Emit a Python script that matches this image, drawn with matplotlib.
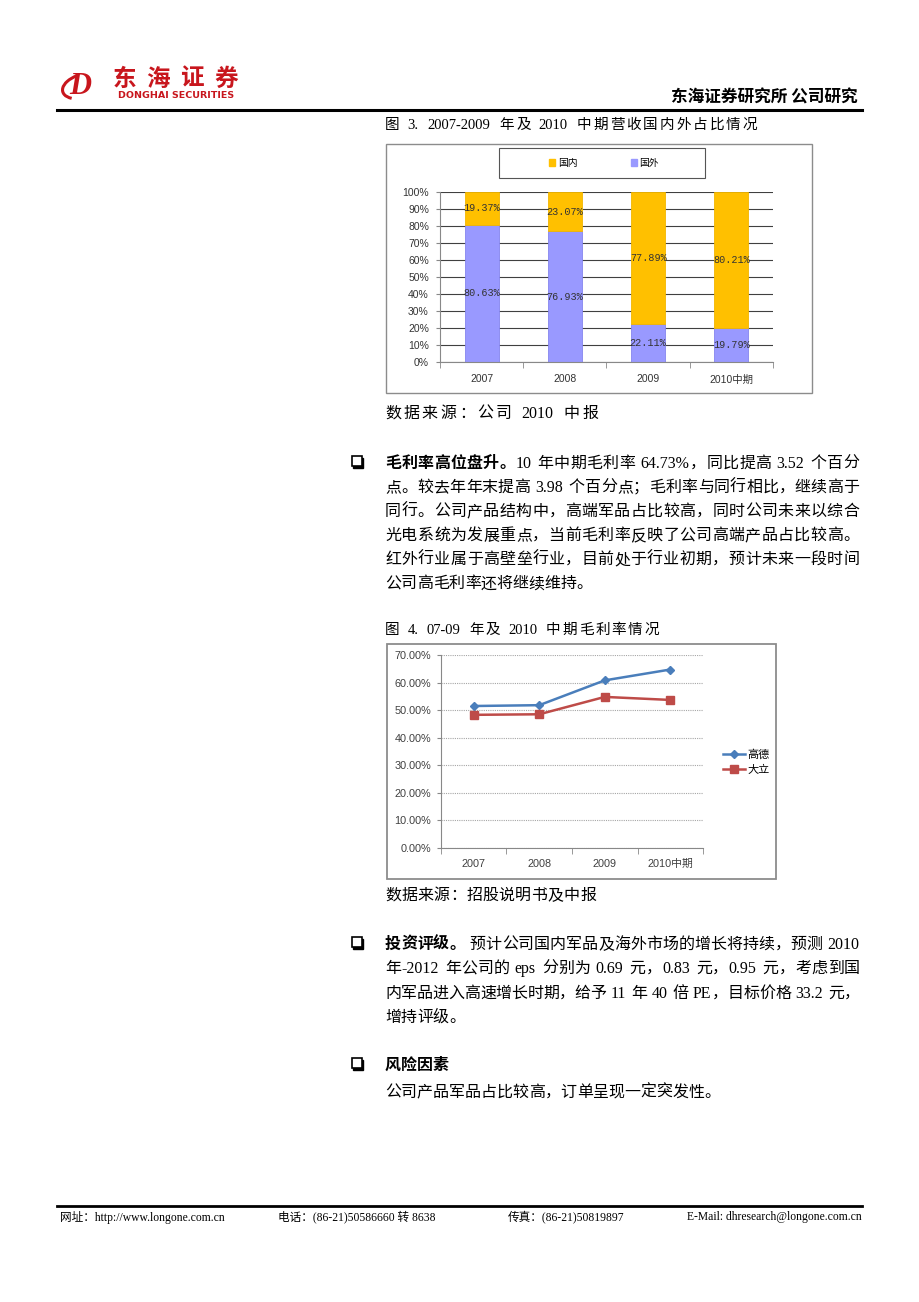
import re
import numpy as np
import matplotlib
matplotlib.use('Agg')
import matplotlib.pyplot as plt
from matplotlib.patches import Rectangle, Patch, Arc
from matplotlib.ticker import FuncFormatter

W, H = 920, 1302
CN = ['Liberation Serif', 'Noto Sans CJK SC']
XL = ['Liberation Sans', 'Noto Sans CJK SC']
plt.rcParams['font.family'] = CN

# ---- data ----
years = ['2007', '2008', '2009', '2010中期']
domestic = [19.37, 23.07, 77.89, 80.21]   # 国内
foreign = [80.63, 76.93, 22.11, 19.79]    # 国外
gaode = [51.5, 51.8, 60.8, 64.73]         # 高德
dali = [48.3, 48.5, 54.8, 53.7]           # 大立

para1 = [
    [('毛利率高位盘升。', 'bold'), ('10 年中期毛利率 64.73%，同比提高 3.52 个百分', 'normal')],
    [('点。较去年年末提高 3.98 个百分点；毛利率与同行相比，继续高于', 'normal')],
    [('同行。公司产品结构中，高端军品占比较高，同时公司未来以综合', 'normal')],
    [('光电系统为发展重点，当前毛利率反映了公司高端产品占比较高。', 'normal')],
    [('红外行业属于高壁垒行业，目前处于行业初期，预计未来一段时间', 'normal')],
    [('公司高毛利率还将继续维持。', 'normal')],
]
para2 = [
    [('投资评级。', 'bold'), (' 预计公司国内军品及海外市场的增长将持续，预测 2010', 'normal')],
    [('年-2012 年公司的 eps 分别为 0.69 元，0.83 元，0.95 元，考虑到国', 'normal')],
    [('内军品进入高速增长时期，给予 11 年 40 倍 PE，目标价格 33.2 元，', 'normal')],
    [('增持评级。', 'normal')],
]

fig = plt.figure(figsize=(W / 100, H / 100), dpi=100)
page = fig.add_axes([0, 0, 1, 1])
page.set_xlim(0, W)
page.set_ylim(H, 0)
page.axis('off')
renderer = fig.canvas.get_renderer()


def box(l, t, r, b):
    return [l / W, 1 - b / H, (r - l) / W, (b - t) / H]


tok_re = re.compile(r'[A-Za-z0-9.%\-/()@:]+| |.')


def line(x0, yc, parts, x1=None, size=11.5):
    # lay out one line token by token, spreading it to x1 if given
    em = size * 100 / 72
    items = []
    for s, w in parts:
        for t in tok_re.findall(s):
            if t == ' ':
                items.append((None, em * 0.28))
                continue
            txt = page.text(0, yc + em * 0.36, t, fontsize=size, fontweight=w,
                            va='baseline', ha='left', color='black')
            if len(t) == 1 and ord(t) > 0x2000:
                wd = em
            else:
                wd = txt.get_window_extent(renderer).width + 1
            items.append((txt, wd))
    total = sum(wd for _, wd in items)
    gap = 0
    if x1 is not None and len(items) > 1:
        gap = (x1 - x0 - total) / (len(items) - 1)
    x = x0
    for txt, wd in items:
        if txt is not None:
            txt.set_x(x)
        x += wd + gap


def bullet(x, y):
    page.add_patch(Rectangle((x + 1.5, y + 1.5), 10, 10, color='black'))
    page.add_patch(Rectangle((x, y), 10, 10, facecolor='white', edgecolor='black', lw=1.2))


# ---- header ----
page.text(80, 87, 'D', fontsize=22, fontweight='bold', style='italic', color='#C8161D',
          family='Liberation Serif', ha='center', va='center')
page.add_patch(Arc((84, 86), 44, 24, angle=-15, theta1=150, theta2=250, color='#C8161D', lw=2.2))
for i, ch in enumerate('东海证券'):
    page.text(124 + i * 34, 79, ch, fontsize=17, fontweight='bold', color='#C8161D',
              family='Noto Sans CJK SC', ha='center', va='center')
page.text(176, 95, 'DONGHAI SECURITIES', fontsize=6.8, fontweight='bold', color='#C8161D',
          family='DejaVu Sans', ha='center', va='center')
page.text(858, 98, '东海证券研究所 公司研究', fontsize=12, fontweight='bold',
          family='Noto Sans CJK SC', ha='right', va='center')
page.plot([57, 862], [110, 110], color='black', lw=2.2)

# ---- figure 3 ----
line(385, 124, [('图 3. 2007-2009 年及 2010 中期营收国内外占比情况', 'normal')], x1=757, size=10.5)
page.add_patch(Rectangle((386, 144), 426, 249, fill=False, edgecolor='#8c8c8c', lw=1))
page.add_patch(Rectangle((499, 148), 206, 30, fill=False, edgecolor='#555555', lw=0.8))

ax1 = fig.add_axes(box(440, 192, 773, 362))
x = np.arange(len(years))
b1 = ax1.bar(x, foreign, 0.41, color='#9999FF', edgecolor='#8585EE', lw=0.6, zorder=2)
b2 = ax1.bar(x, domestic, 0.41, bottom=foreign, color='#FFC000', edgecolor='#F2B600', lw=0.6, zorder=2)
for i in x:
    ax1.text(i, foreign[i] / 2, f'{foreign[i]:.2f}%', ha='center', va='center',
             fontsize=7.3, family='Liberation Mono', color='#333333', zorder=3)
    ax1.text(i, foreign[i] + domestic[i] / 2, f'{domestic[i]:.2f}%', ha='center', va='center',
             fontsize=7.3, family='Liberation Mono', color='#333333', zorder=3)
ax1.set_xlim(-0.5, 3.5)
ax1.set_ylim(0, 100)
ax1.set_yticks(np.arange(0, 101, 10))
ax1.yaxis.set_major_formatter(FuncFormatter(lambda v, p: f'{v:.0f}%'))
ax1.grid(axis='y', color='#404040', lw=0.8)
ax1.set_axisbelow(True)
ax1.set_xticks(x)
ax1.set_xticklabels(years, family=XL)
ax1.set_xticks(np.arange(-0.5, 4, 1), minor=True)
ax1.tick_params(axis='x', which='major', length=0, pad=9, labelsize=7.5, labelcolor='#333333')
ax1.tick_params(axis='x', which='minor', length=4, color='#888888')
ax1.tick_params(axis='y', length=3, color='#888888', pad=5, labelsize=7.5, labelcolor='#333333')
for lab in ax1.get_yticklabels():
    lab.set_family('Liberation Sans')
for s in ['top', 'right']:
    ax1.spines[s].set_visible(False)
for s in ['left', 'bottom']:
    ax1.spines[s].set_color('#888888')
fig.legend([Patch(color='#FFC000'), Patch(color='#9999FF')], ['国内', '国外'],
           loc='center', bbox_to_anchor=(604 / W, 1 - 163 / H), ncol=2, frameon=False,
           handlelength=0.6, handleheight=0.6, handletextpad=0.3, columnspacing=5.5,
           prop={'family': 'Noto Sans CJK SC', 'size': 7})

line(385, 412, [('数据来源：公司 2010 中报', 'normal')], x1=598)

# ---- text block 1 ----
bullet(352, 456)
for k, parts in enumerate(para1):
    line(385, 462 + k * 24.1, parts, x1=None if k == len(para1) - 1 else 859)

# ---- figure 4 ----
line(385, 629, [('图 4. 07-09 年及 2010 中期毛利率情况', 'normal')], x1=659, size=10.5)
page.add_patch(Rectangle((387, 644), 389, 235, fill=False, edgecolor='#8c8c8c', lw=1.3))

ax2 = fig.add_axes(box(441, 655, 703, 848))
ax2.plot(x, gaode, color='#4A7EBB', lw=1.8, marker='D', ms=4.5, label='高德')
ax2.plot(x, dali, color='#BE4B48', lw=1.8, marker='s', ms=6, label='大立')
ax2.set_xlim(-0.5, 3.5)
ax2.set_ylim(0, 70)
ax2.set_yticks(np.arange(0, 71, 10))
ax2.yaxis.set_major_formatter(FuncFormatter(lambda v, p: f'{v:.2f}%'))
ax2.grid(axis='y', color='#A6A6A6', lw=0.8, ls=(0, (1, 1)))
ax2.set_axisbelow(True)
ax2.set_xticks(x)
ax2.set_xticklabels(years, family=XL)
ax2.set_xticks(np.arange(-0.5, 4, 1), minor=True)
ax2.tick_params(axis='x', which='major', length=0, pad=8, labelsize=7.8, labelcolor='#404040')
ax2.tick_params(axis='x', which='minor', length=4, color='#888888')
ax2.tick_params(axis='y', length=3, color='#888888', pad=4, labelsize=7.8, labelcolor='#404040')
for lab in ax2.get_yticklabels():
    lab.set_family('Liberation Sans')
for s in ['top', 'right']:
    ax2.spines[s].set_visible(False)
for s in ['left', 'bottom']:
    ax2.spines[s].set_color('#888888')
ax2.legend(loc='center left', bbox_to_anchor=(717 / W, 1 - 762 / H), bbox_transform=fig.transFigure,
           frameon=False, handlelength=2.0, handletextpad=0.2, labelspacing=0.5, borderpad=0,
           prop={'family': 'Noto Sans CJK SC', 'size': 8})

line(385, 894, [('数据来源：招股说明书及中报', 'normal')], x1=596)

# ---- text block 2 ----
bullet(352, 937)
for k, parts in enumerate(para2):
    line(385, 943 + k * 24.4, parts, x1=None if k == len(para2) - 1 else 860)

bullet(352, 1058)
line(385, 1064, [('风险因素', 'bold')])
line(385, 1091, [('公司产品军品占比较高，订单呈现一定突发性。', 'normal')])

# ---- footer ----
page.plot([57, 862], [1206, 1206], color='black', lw=2)
page.text(60, 1217, '网址：http://www.longone.com.cn', fontsize=8.4, va='center', ha='left')
page.text(278, 1217, '电话：(86-21)50586660 转 8638', fontsize=8.4, va='center', ha='left')
page.text(508, 1217, '传真：(86-21)50819897', fontsize=8.4, va='center', ha='left')
page.text(862, 1217, 'E-Mail: dhresearch@longone.com.cn', fontsize=8.4, va='center', ha='right')

fig.savefig('out.png', dpi=100)
